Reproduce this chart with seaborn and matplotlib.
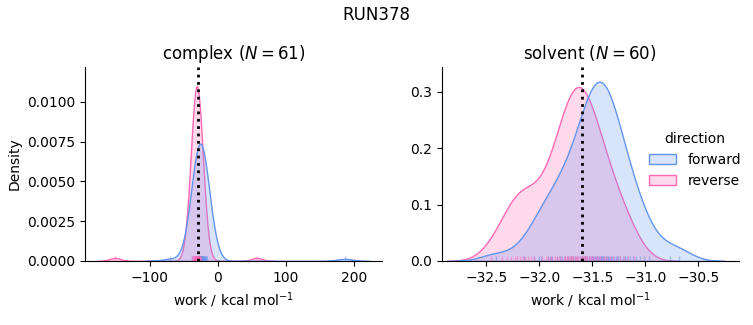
import pandas as pd
import matplotlib.pyplot as plt
import seaborn as sns

run_name = "RUN378"
blue = "#6495ED"
pink = "#FF69B4"

complex_forward = [
    -37.5, -35.5, -34.6, -34.0, -33.2, -32.4, -31.7, -31.1, -30.5, -30.0,
    -29.5, -29.1, -28.7, -28.3, -28.0, -27.7, -27.4, -27.1, -26.9, -26.7,
    -26.5, -26.3, -26.1, -25.9, -25.7, -25.5, -25.3, -25.1, -24.9, -24.6,
    -24.3, -24.0, -23.7, -23.4, -23.0, -22.6, -22.2, -21.7, -21.2, -20.6,
    -19.9, -19.1, -18.6, -18.0, -16.5, -27.9, -26.8, -26.0, -25.4, -24.8,
    -27.2, -26.2, -25.0, -23.9, -28.5, -22.9, -29.8, -21.0, -17.5, -71.0,
    186.0,
]
complex_reverse = [
    -38.5, -36.8, -35.6, -35.0, -34.5, -34.1, -33.7, -33.4, -33.1, -32.9,
    -32.7, -32.5, -32.3, -32.1, -31.9, -31.8, -31.6, -31.5, -31.4, -31.3,
    -31.2, -31.1, -31.0, -30.9, -30.8, -30.7, -30.6, -30.5, -30.4, -30.3,
    -30.1, -29.9, -29.7, -29.5, -29.2, -28.9, -28.6, -28.2, -27.8, -27.3,
    -26.7, -25.9, -24.6, -31.7, -31.35, -31.05, -30.75, -30.45, -32.0, -30.0,
    -32.6, -29.4, -33.0, -28.4, -31.25, -30.85, -31.55, -30.25, -29.0, -151.0,
    57.0,
]
solvent_forward = [
    -32.41, -32.00, -32.14, -32.05, -31.98, -31.92, -31.875, -31.835, -31.805, -31.785,
    -31.76, -31.73, -31.70, -31.68, -31.66, -31.64, -31.62, -31.60, -31.585, -31.57,
    -31.565, -31.545, -31.53, -31.515, -31.50, -31.49, -31.48, -31.47, -31.465, -31.455,
    -31.445, -31.435, -31.42, -31.415, -31.405, -31.395, -31.385, -31.37, -31.36, -31.35,
    -31.34, -31.325, -31.31, -31.295, -31.28, -31.27, -31.255, -31.235, -31.215, -31.195,
    -31.17, -31.14, -31.115, -31.085, -31.05, -31.01, -30.965, -31.90, -30.77, -30.68,
]
solvent_reverse = [
    -32.45, -32.35, -32.30, -32.265, -32.23, -32.205, -32.18, -32.155, -32.13, -32.105,
    -32.08, -32.05, -31.89, -31.74, -31.97, -31.94, -31.92, -31.89, -31.85, -31.83,
    -31.81, -31.79, -31.765, -31.74, -31.72, -31.71, -31.69, -31.68, -31.655, -31.645,
    -31.635, -31.62, -31.60, -31.59, -31.58, -31.565, -31.545, -31.535, -31.525, -31.50,
    -31.49, -31.47, -31.445, -31.425, -31.40, -31.38, -31.36, -31.335, -31.30, -31.27,
    -31.24, -31.205, -31.16, -31.105, -31.665, -31.61, -31.555, -31.70, -31.755, -31.455,
]

phases = ["complex", "solvent"]
n_cycles = {"complex": 61, "solvent": 60}
free_energy = {"complex": -29.1, "solvent": -31.6}
xlims = {"complex": (-195, 241), "solvent": (-32.92, -30.12)}
ylims = {"complex": (0, 0.0122), "solvent": (0, 0.344)}

rows = []
for phase, direction, values in [
    ("complex", "forward", complex_forward),
    ("complex", "reverse", complex_reverse),
    ("solvent", "forward", solvent_forward),
    ("solvent", "reverse", solvent_reverse),
]:
    for v in values:
        rows.append({"phase": phase, "direction": direction, "work": v})
df = pd.DataFrame(rows)
df["group"] = df["phase"] + " " + df["direction"]

fig, axes = plt.subplots(1, 2, figsize=(7.53, 3.25), dpi=100)

for ax, phase in zip(axes, phases):
    # density normalised over all runs in the frame, only this phase drawn
    sns.kdeplot(data=df, x="work", hue="group",
                hue_order=[f"{phase} forward", f"{phase} reverse"],
                palette=[blue, pink], fill=True, common_norm=True,
                legend=(phase == "solvent"), ax=ax)
    sub = df[df["phase"] == phase]
    sns.rugplot(data=sub, x="work", hue="direction", hue_order=["forward", "reverse"],
                palette=[blue, pink], height=0.025, alpha=0.5, legend=False, ax=ax)
    ax.axvline(free_energy[phase], color="black", linestyle=":", linewidth=2)
    ax.set_xlim(*xlims[phase])
    ax.set_ylim(*ylims[phase])
    ax.set_title(f"{phase} ($N={n_cycles[phase]}$)", fontsize=12)
    ax.set_xlabel("work / kcal mol$^{-1}$")
    sns.despine(ax=ax)

axes[0].set_ylabel("Density")
axes[1].set_ylabel("")
sns.move_legend(axes[1], "center right", bbox_to_anchor=(1.05, 0.52), frameon=False,
                title="direction", labels=["forward", "reverse"])

fig.suptitle(run_name, fontsize=12)
fig.subplots_adjust(left=0.113, right=0.981, top=0.794, bottom=0.197, wspace=0.2)
fig.savefig("out.png", dpi=100)
